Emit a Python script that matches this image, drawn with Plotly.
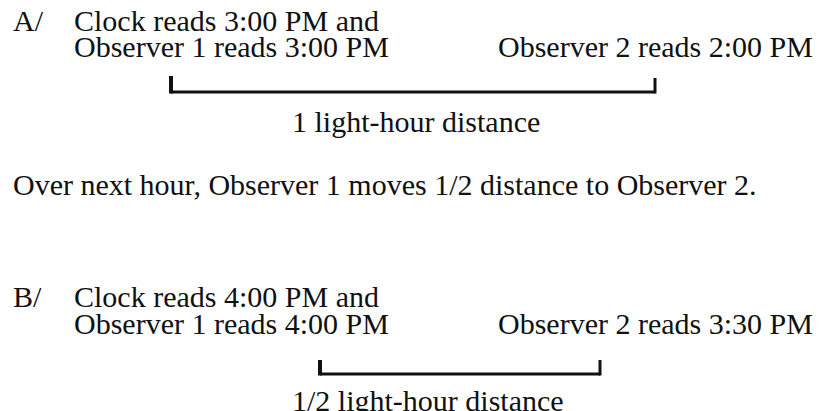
import plotly.graph_objects as go

# ---- content ----
panel_labels = ["A/", "B/"]
clock_lines = ["Clock reads 3:00 PM and", "Clock reads 4:00 PM and"]
observer1_lines = ["Observer 1 reads 3:00 PM", "Observer 1 reads 4:00 PM"]
observer2_lines = ["Observer 2 reads 2:00 PM", "Observer 2 reads 3:30 PM"]
distance_labels = ["1 light-hour distance", "1/2 light-hour distance"]
transition_text = "Over next hour, Observer 1 moves 1/2 distance to Observer 2."

# ---- layout positions (pixels) ----
W, H = 829, 411
FONT = dict(family="Liberation Serif, Times New Roman, serif", size=30, color="#111111")
line1_y = [20, 296]
line2_y = [46, 323]
label_x = 11
text_x = 72
obs2_x = 496
bracket_x = [(171, 655), (320, 600)]
bracket_y = [92, 374]
tick_top = [(76, 78), (360, 360)]
dist_center_x = [416, 428]
dist_y = [121, 400]
transition_y = 184

fig = go.Figure()
ann = []
shapes = []

def add_text(x, y, text, xanchor="left"):
    ann.append(dict(x=x, y=y, xref="x", yref="y", text=text, showarrow=False,
                    xanchor=xanchor, yanchor="middle", font=FONT))

for i in range(2):
    add_text(label_x, line1_y[i], panel_labels[i])
    add_text(text_x, line1_y[i], clock_lines[i])
    add_text(text_x, line2_y[i], observer1_lines[i])
    add_text(obs2_x, line2_y[i], observer2_lines[i])
    xl, xr = bracket_x[i]
    yb = bracket_y[i]
    tl, tr = tick_top[i]
    shapes.append(dict(type="line", xref="x", yref="y", x0=xl, x1=xr, y0=yb, y1=yb,
                       line=dict(color="#111111", width=3)))
    shapes.append(dict(type="line", xref="x", yref="y", x0=xl, x1=xl, y0=tl, y1=yb + 1.5,
                       line=dict(color="#111111", width=4)))
    shapes.append(dict(type="line", xref="x", yref="y", x0=xr, x1=xr, y0=tr, y1=yb + 1.5,
                       line=dict(color="#111111", width=3)))
    add_text(dist_center_x[i], dist_y[i], distance_labels[i], xanchor="center")

add_text(label_x, transition_y, transition_text)

fig.update_layout(
    width=W, height=H,
    margin=dict(l=0, r=0, t=0, b=0),
    paper_bgcolor="white", plot_bgcolor="white",
    xaxis=dict(range=[0, W], visible=False, fixedrange=True),
    yaxis=dict(range=[H, 0], visible=False, fixedrange=True),
    annotations=ann, shapes=shapes, showlegend=False,
)
fig.write_html("out.html", config={"displayModeBar": False},
               post_script="document.body.style.margin='0px';")
